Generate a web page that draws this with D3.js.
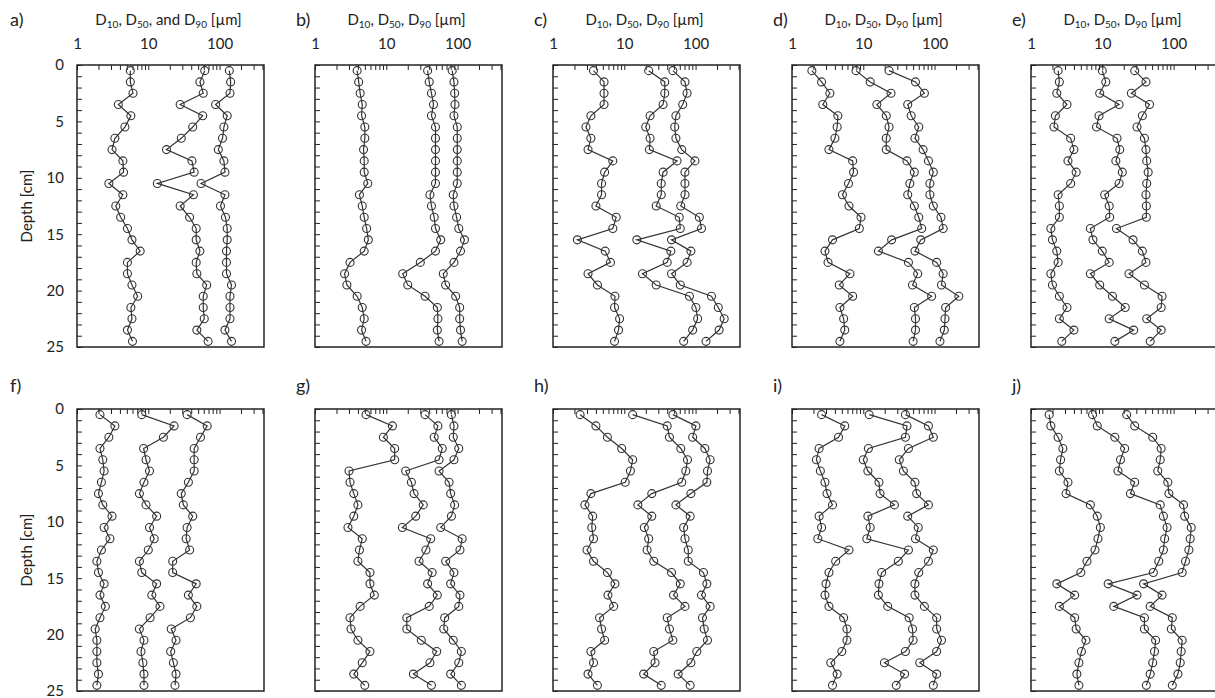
<!DOCTYPE html>
<html>
<head>
<meta charset="utf-8">
<script src="https://cdn.jsdelivr.net/npm/d3@7"></script>
<style>
  body { margin: 0; background: #fff; }
  text { font-family: Lato, "Open Sans", sans-serif; fill: #222; }
</style>
</head>
<body>
<svg id="chart" width="1215" height="698"></svg>
<script>
// depth of each sample (cm)
var depths = [0.5,1.5,2.5,3.5,4.5,5.5,6.5,7.5,8.5,9.5,10.5,11.5,12.5,13.5,14.5,15.5,16.5,17.5,18.5,19.5,20.5,21.5,22.5,23.5,24.5];

// grain size values, um
var a_D10 = [5.6,5.6,6.1,3.8,5.7,4.7,3.4,3.1,4.4,4.5,2.8,4.4,3.5,4.1,5.1,5.9,7.7,5.1,5.1,5.9,7.1,5.7,5.9,5.1,6.0];
var a_D50 = [62,53,59,28,58,42,29,18,41,44,13.4,43,28,38,47,47,53,47,48,66,59,59,61,48,69];
var a_D90 = [137,143,140,88,128,115,110,96,115,119,55,119,103,121,128,128,125,125,125,147,140,140,140,119,147];

var b_D10 = [3.9,4.1,4.3,4.6,4.5,5.0,5.0,4.8,4.9,4.9,5.5,4.2,4.6,4.9,5.3,5.6,4.9,3.1,2.6,2.8,3.9,4.6,4.9,4.5,5.2];
var b_D50 = [38,40,43,46,43,49,49,49,49,49,49,41,43,47,49,58,49,30,17,20,35,52,53,52,55];
var b_D90 = [84,89,91,92,89,99,99,99,99,99,99,87,89,97,104,125,110,89,63,68,94,107,107,110,116];

var c_D10 = [3.7,5.2,5.2,5.2,3.4,2.9,3.4,3.1,6.9,5.3,4.8,4.8,4.0,7.7,6.9,2.2,5.4,6.4,3.1,4.2,7.4,7.3,8.6,8.3,7.3];
var c_D50 = [22,37,37,35,23,20,23,22.5,55,35,33,33,28,59,61,15,45,40,18,28,82,101,107,91,68];
var c_D90 = [48,71,76,66,53,51,53,64,98,71,71,71,62,113,121,46,86,76,46,61,167,208,252,214,140];

var d_D10 = [1.9,2.6,3.4,2.7,4.4,4.3,4.0,3.3,7.1,7.3,6.2,5.1,6.3,9.3,8.8,3.7,2.9,3.2,6.5,4.6,7.1,4.7,5.3,5.5,4.7];
var d_D50 = [7.9,12.5,24.5,15.5,21,23,21,21,41,52,45,42,52,60,66,25,16.3,43,58,49,91,52,54,54,50];
var d_D90 = [23,54,72,42,47,60,53,69,82,96,86,86,96,123,132,64,53,107,132,125,219,143,140,137,119];

var e_D10 = [2.4,2.5,2.3,3.2,2.2,2.1,3.6,4.0,3.3,4.3,3.6,2.4,2.5,2.5,1.9,2.0,2.3,2.4,1.9,2.0,2.5,3.2,2.5,4.0,2.7];
var e_D50 = [10,11.2,9.2,17.2,9.0,8.3,16.1,17.6,15.5,19.1,17.2,10.8,12.5,12.7,6.8,7.4,10,12.5,6.8,9.2,13.9,21,12.5,27.6,15];
var e_D90 = [28.5,41,25.6,46,36.5,30.7,39,41,42,44,42,41,41.5,41.5,15.8,27,36.5,41,23.7,39,69,67,42,67,47];

var f_D10 = [2.1,3.4,2.8,2.1,2.3,2.4,2.2,2.0,2.3,3.1,2.4,2.9,2.2,1.9,2.0,2.4,2.1,2.5,2.1,1.8,1.9,1.9,1.9,2.0,1.9];
var f_D50 = [8.1,23,16.3,8.6,9.3,10.4,8.7,7.5,9.3,13.1,10.4,12.1,10,7.5,8.1,13.1,11.2,14.6,10.6,7.5,8.7,7.9,8.4,8.7,8.7];
var f_D90 = [35,67,54,44,44,44,36.5,29,31,42,35,34,38,22,22,47,36.5,48,39,21,24.5,20.6,22.5,24.5,23.7];

var g_D10 = [5.2,12.2,9.1,13.1,13.1,3.0,3.1,3.5,4.0,3.5,2.9,4.6,4.2,4.0,5.9,5.9,6.8,4.3,3.1,3.2,4.0,5.9,4.6,3.5,5.0];
var g_D50 = [35,53,47,61,55,18.7,22.5,24.5,33,25.9,16.8,42,36,28.8,44,38,52,40,19.4,19.4,31,51,41,24,43];
var g_D90 = [82,89,87,104,89,55,76,80,91,82,58,116,108,68,89,80,108,104,66,64,87,113,104,80,113];

var h_D10 = [2.4,4.0,5.8,9.2,13.1,12.2,10.3,3.4,2.8,3.6,3.5,3.7,3.0,3.7,5.8,7.4,5.9,7.1,4.5,4.8,5.3,3.4,3.7,3.1,4.2];
var h_D50 = [13.1,40,43,62,77,73,64,24.3,15.5,24.3,19.1,22,20.9,25.9,46,61,49,71,40,43,48,25.9,27,18.7,33];
var h_D90 = [48,101,91,135,160,147,144,86,53,84,68,71,79,79,129,144,121,160,125,132,147,104,86,57,84];

var i_D10 = [2.6,5.5,4.5,2.4,2.2,2.5,2.9,3.1,3.7,2.4,2.6,2.3,6.3,4.1,3.3,3.0,2.9,3.3,5.3,5.9,5.9,5.0,3.5,4.3,3.7];
var i_D50 = [12.1,41,39,11.8,10,11.6,16.6,17.2,27.3,11.6,12.5,11.2,43,31,18.1,16.6,16.3,22,44,49,50,39,19.8,38,29];
var i_D90 = [39,82,96,43,32,36.5,53,56,82,42,59,54,96,82,60,53,53,72,107,107,125,107,62,107,96];

var j_D10 = [1.8,1.9,2.4,2.8,2.6,2.5,3.3,3.1,6.8,8.5,9.4,8.7,7.9,6.1,5.0,2.3,4.1,2.5,4.1,4.3,5.9,5.1,4.7,4.4,4.7];
var j_D50 = [7.3,8.5,15,20.6,18,16.6,28.5,24.8,65,72,81,75,72,62,52,12.1,30.7,14.5,39,39,56,54,51,47,41.5];
var j_D90 = [22,28.5,51,67,65,60,83,86,138,143,177,171,164,147,132,38,69,47,96,93,132,128,124,115,96];

// axis ticks and labels
var xMinorTicks = [1,2,3,4,5,6,7,8,9,10,20,30,40,50,60,70,80,90,100,200,300,400];
var xTickLabels = [1, 10, 100];
var yTickLabels = [0, 5, 10, 15, 20, 25];
var yMinorTicks = [0,1,2,3,4,5,6,7,8,9,10,11,12,13,14,15,16,17,18,19,20,21,22,23,24,25];

var panels = [
  {id:"a)", row:0, col:0, title:"and", s:[a_D10, a_D50, a_D90]},
  {id:"b)", row:0, col:1, title:"", s:[b_D10, b_D50, b_D90]},
  {id:"c)", row:0, col:2, title:"", s:[c_D10, c_D50, c_D90]},
  {id:"d)", row:0, col:3, title:"", s:[d_D10, d_D50, d_D90]},
  {id:"e)", row:0, col:4, title:"", s:[e_D10, e_D50, e_D90]},
  {id:"f)", row:1, col:0, s:[f_D10, f_D50, f_D90]},
  {id:"g)", row:1, col:1, s:[g_D10, g_D50, g_D90]},
  {id:"h)", row:1, col:2, s:[h_D10, h_D50, h_D90]},
  {id:"i)", row:1, col:3, s:[i_D10, i_D50, i_D90]},
  {id:"j)", row:1, col:4, s:[j_D10, j_D50, j_D90]}
];

var colLeft = [77, 315, 553, 792, 1031];
var rowTop = [65, 409];
var pw = 187, ph = 282;

var svg = d3.select("#chart");

var x = d3.scaleLog().domain([1, 420]).range([0, pw]);
var y = d3.scaleLinear().domain([0, 25]).range([0, ph]);

var valueline = d3.line()
    .x(function(d) { return x(d.v); })
    .y(function(d) { return y(d.depth); });

panels.forEach(function(p){
    var left = colLeft[p.col], top = rowTop[p.row];
    var g = svg.append("g").attr("transform", "translate(" + left + "," + top + ")");

    // panel letter
    svg.append("text")
        .attr("x", p.col == 0 ? 10 : left - 19)
        .attr("y", top - (p.row == 0 ? 39 : 17))
        .attr("font-size", 18)
        .text(p.id);

    // x axis title, first row only
    if (p.row == 0) {
        var t = svg.append("text")
            .attr("x", left + pw / 2 - 2)
            .attr("y", 25)
            .attr("font-size", 15)
            .attr("text-anchor", "middle");
        var sep = p.title ? ", " : ", ";
        t.append("tspan").text("D");
        t.append("tspan").attr("font-size", 10).attr("dy", 3).text("10");
        t.append("tspan").attr("dy", -3).text(", D");
        t.append("tspan").attr("font-size", 10).attr("dy", 3).text("50");
        t.append("tspan").attr("dy", -3).text(p.title ? ", and D" : ", D");
        t.append("tspan").attr("font-size", 10).attr("dy", 3).text("90");
        t.append("tspan").attr("dy", -3).text(" [\u00b5m]");
    }

    // top ticks (inward), labels on the first row
    var xAxis = d3.axisTop(x)
        .tickValues(xMinorTicks)
        .tickSize(-5)
        .tickPadding(16)
        .tickFormat(function(d){ return (p.row == 0 && xTickLabels.indexOf(d) >= 0) ? d : ""; });
    var gx = g.append("g").call(xAxis);
    gx.select(".domain").remove();
    gx.selectAll("line").attr("stroke", "#222");
    gx.selectAll("text").attr("font-size", 15).attr("fill", "#222")
        .style("font-family", "Lato, 'Open Sans', sans-serif");

    // left ticks (inward), labels on the first column
    var yAxis = d3.axisLeft(y)
        .tickValues(yMinorTicks)
        .tickSize(-5)
        .tickPadding(13)
        .tickFormat(function(d){ return (p.col == 0 && yTickLabels.indexOf(d) >= 0) ? d : ""; });
    var gy = g.append("g").call(yAxis);
    gy.select(".domain").remove();
    gy.selectAll("line").attr("stroke", "#222");
    gy.selectAll("text").attr("font-size", 15).attr("fill", "#222")
        .style("font-family", "Lato, 'Open Sans', sans-serif");

    if (p.col == 0) {
        svg.append("text")
            .attr("transform", "translate(32," + (top + ph / 2) + ") rotate(-90)")
            .attr("text-anchor", "middle")
            .attr("font-size", 15)
            .text("Depth [cm]");
    }

    // frame
    g.append("rect")
        .attr("width", pw).attr("height", ph)
        .attr("fill", "none")
        .attr("stroke", "#222")
        .attr("stroke-width", 1.5);

    // series: D10, D50, D90
    p.s.forEach(function(vals){
        var datum = vals.map(function(v, i){ return {depth: depths[i], v: v}; });
        g.append("path")
            .datum(datum)
            .attr("d", valueline)
            .attr("fill", "none")
            .attr("stroke", "#333")
            .attr("stroke-width", 1.2);
        g.selectAll(null)
            .data(datum)
            .enter().append("circle")
            .attr("r", 4)
            .attr("cx", function(d) { return x(d.v); })
            .attr("cy", function(d) { return y(d.depth); })
            .attr("fill", "none")
            .attr("stroke", "#333")
            .attr("stroke-width", 1.1);
    });
});
</script>
</body>
</html>
